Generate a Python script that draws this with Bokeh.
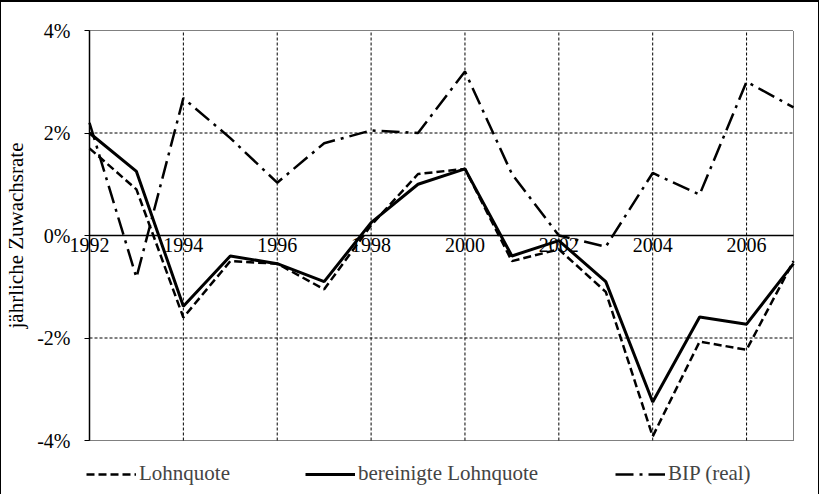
from bokeh.plotting import figure
from bokeh.models import FixedTicker, Legend, LegendItem, Range1d, LinearAxis
from bokeh.embed import file_html
from bokeh.resources import INLINE

years = list(range(1992, 2008))
lohnquote = [1.7, 0.9, -1.6, -0.5, -0.55, -1.05, 0.2, 1.2, 1.3, -0.5, -0.27, -1.1, -3.92, -2.07, -2.23, -0.5]
bereinigt = [2.0, 1.25, -1.38, -0.4, -0.55, -0.9, 0.25, 1.0, 1.3, -0.4, -0.1, -0.9, -3.25, -1.59, -1.73, -0.55]
bip = [2.2, -0.82, 2.68, 1.9, 1.03, 1.8, 2.05, 2.0, 3.2, 1.2, 0.0, -0.22, 1.22, 0.8, 3.0, 2.5]
x_ticks = [1992, 1994, 1996, 1998, 2000, 2002, 2004, 2006]
y_ticks = [-4, -2, 0, 2, 4]
y_labels = {-4: "-4%", -2: "-2%", 0: "0%", 2: "2%", 4: "4%"}

FONT = "Liberation Serif"
W, H = 819, 494

# pixel layout of the plotting area inside the canvas
px_left, px_right = 88, 792
px_top, px_bottom = 28, 438
x0, x1 = years[0], years[-1]
y0, y1 = y_ticks[0], y_ticks[-1]
ppx = (px_right - px_left) / (x1 - x0)
ppy = (px_bottom - px_top) / (y1 - y0)
xr = Range1d(x0 - px_left / ppx, x1 + (W - px_right) / ppx)
yr = Range1d(y0 - (H - px_bottom) / ppy, y1 + px_top / ppy)

p = figure(width=W, height=H, output_backend="svg", toolbar_location=None,
           x_range=xr, y_range=yr, x_axis_location=None, y_axis_location=None,
           min_border=0)
p.styles = {"border-top": "2px solid black", "border-left": "1px solid black",
            "border-right": "1px solid black"}
p.outline_line_color = None
p.xgrid.visible = False
p.ygrid.visible = False

# grid lines inside the plotting area
gx = x_ticks[1:]
p.segment(x0=gx, y0=[y0] * len(gx), x1=gx, y1=[y1] * len(gx),
          line_color="black", line_width=1, line_dash="3 2")
gy = [t for t in y_ticks if t not in (y0, y1, 0)]
p.segment(x0=[x0] * len(gy), y0=gy, x1=[x1] * len(gy), y1=gy,
          line_color="black", line_width=1, line_dash="3 2")
# dotted frame (top, bottom, right)
p.segment(x0=[x0, x0, x1], y0=[y1, y0, y0], x1=[x1, x1, x1], y1=[y1, y0, y1],
          line_color="black", line_width=1, line_dash="1 1")

# x axis at zero
xa = LinearAxis(fixed_location=0, bounds=(x0, x1), ticker=FixedTicker(ticks=x_ticks))
xa.major_tick_in = 0
xa.major_tick_out = 0
xa.minor_tick_in = 0
xa.minor_tick_out = 0
xa.axis_line_color = "black"
xa.axis_line_width = 1.5
xa.major_label_text_font = FONT
xa.major_label_text_font_size = "20px"
xa.major_label_text_color = "black"
xa.major_label_standoff = 2
p.add_layout(xa, "below")

ya = LinearAxis(fixed_location=x0, bounds=(y0, y1), ticker=FixedTicker(ticks=y_ticks))
ya.major_label_overrides = y_labels
ya.major_tick_in = 0
ya.major_tick_out = 5
ya.minor_tick_in = 0
ya.minor_tick_out = 0
ya.axis_line_color = "black"
ya.axis_line_width = 1.5
ya.major_tick_line_color = "black"
ya.major_label_text_font = FONT
ya.major_label_text_font_size = "20px"
ya.major_label_text_color = "black"
ya.major_label_standoff = 14
ya.axis_label = "jährliche Zuwachsrate"
ya.axis_label_text_font = FONT
ya.axis_label_text_font_size = "21px"
ya.axis_label_text_font_style = "normal"
ya.axis_label_text_color = "black"
ya.axis_label_standoff = 6
p.add_layout(ya, "left")

r1 = p.line(years, lohnquote, line_color="black", line_width=2.5, line_dash="8 4")
r2 = p.line(years, bereinigt, line_color="black", line_width=3)
r3 = p.line(years, bip, line_color="black", line_width=2.5, line_dash="18 6 3 6")

def add_leg(label, r, x):
    leg = Legend(items=[LegendItem(label=label, renderers=[r])], location=(x, 10),
                 orientation="horizontal", padding=0, margin=0, spacing=0,
                 glyph_width=50, glyph_height=20, label_standoff=3,
                 label_text_font=FONT, label_text_font_size="21px",
                 background_fill_alpha=0, border_line_alpha=0)
    p.add_layout(leg, "center")

add_leg("Lohnquote", r1, 85)
add_leg("bereinigte Lohnquote", r2, 304)
add_leg("BIP (real)", r3, 614)

open("out.html", "w").write(file_html(p, INLINE))
